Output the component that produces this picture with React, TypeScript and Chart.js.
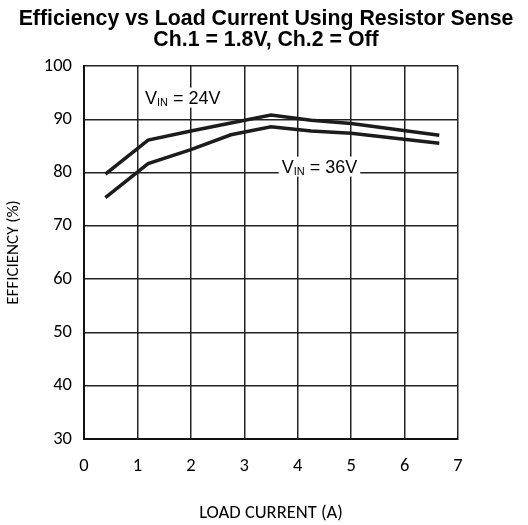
import React, { useEffect, useRef } from "react";
import { Chart, registerables } from "chart.js";

Chart.register(...registerables);

const titleLines = ["Efficiency vs Load Current Using Resistor Sense", "Ch.1 = 1.8V, Ch.2 = Off"];
const xAxisTitle = "LOAD CURRENT (A)";
const yAxisTitle = "EFFICIENCY (%)";

const loadCurrent = [0.4, 1.2, 2.0, 2.75, 3.5, 4.25, 5.0, 6.65];
const eff24V = [79.7, 86.1, 87.8, 89.3, 90.8, 89.8, 89.2, 87.0];
const eff36V = [75.3, 81.7, 84.3, 87.1, 88.6, 87.8, 87.4, 85.5];

const xMin = 0, xMax = 7, xStep = 1;
const yMin = 30, yMax = 100, yStep = 10;

// label anchors in data coordinates (x, baseline y)
const labels24 = { x: 1.14, y: 92.95, main: "V", sub: "IN", rest: " = 24V" };
const labels36 = { x: 3.7, y: 80.0, main: "V", sub: "IN", rest: " = 36V" };

const TICK_FONT = "Carlito, Lato, 'Open Sans', sans-serif";
const ARIAL = "'Liberation Sans', Arial, sans-serif";

export default function App() {
  const ref = useRef<HTMLCanvasElement | null>(null);

  useEffect(() => {
    const canvas = ref.current;
    if (!canvas) return;

    const titlePlugin = {
      id: "customTitle",
      afterDraw(chart: any) {
        const ctx = chart.ctx;
        ctx.save();
        ctx.fillStyle = "#000";
        ctx.textAlign = "center";
        ctx.textBaseline = "alphabetic";
        ctx.font = `bold 21.3px ${ARIAL}`;
        ctx.fillText(titleLines[0], 266, 25);
        ctx.fillText(titleLines[1], 266, 46);
        ctx.restore();
      },
    };

    const drawLabel = (chart: any, l: any) => {
      const ctx = chart.ctx;
      const xs = chart.scales.x;
      const ys = chart.scales.y;
      const px = xs.getPixelForValue(l.x);
      const py = ys.getPixelForValue(l.y);
      ctx.save();
      ctx.font = `18px ${ARIAL}`;
      const w1 = ctx.measureText(l.main).width;
      const w3 = ctx.measureText(l.rest).width;
      ctx.font = `11px ${ARIAL}`;
      const w2 = ctx.measureText(l.sub).width;
      const total = w1 + w2 + w3;
      ctx.fillStyle = "#fff";
      ctx.fillRect(px - 3, py - 16, total + 6, 20);
      ctx.fillStyle = "#000";
      ctx.textAlign = "left";
      ctx.textBaseline = "alphabetic";
      ctx.font = `18px ${ARIAL}`;
      ctx.fillText(l.main, px, py);
      ctx.font = `11px ${ARIAL}`;
      ctx.fillText(l.sub, px + w1, py + 2);
      ctx.font = `18px ${ARIAL}`;
      ctx.fillText(l.rest, px + w1 + w2, py);
      ctx.restore();
    };

    const labelPlugin = {
      id: "vinLabels",
      beforeDatasetsDraw(chart: any) {
        drawLabel(chart, labels24);
        drawLabel(chart, labels36);
      },
    };

    const chart = new Chart(canvas, {
      type: "line",
      data: {
        datasets: [
          {
            label: "VIN = 24V",
            data: loadCurrent.map((x, i) => ({ x, y: eff24V[i] })),
            borderColor: "#1c1c1c",
            borderWidth: 3.5,
            pointRadius: 0,
            tension: 0,
            fill: false,
          },
          {
            label: "VIN = 36V",
            data: loadCurrent.map((x, i) => ({ x, y: eff36V[i] })),
            borderColor: "#1c1c1c",
            borderWidth: 3.5,
            pointRadius: 0,
            tension: 0,
            fill: false,
          },
        ],
      },
      options: {
        responsive: false,
        animation: false,
        layout: { padding: { top: 66, right: 70, left: 0, bottom: 0 } },
        plugins: {
          legend: { display: false },
          title: { display: false },
          tooltip: { enabled: false },
        },
        scales: {
          x: {
            type: "linear",
            min: xMin,
            max: xMax,
            ticks: {
              stepSize: xStep,
              color: "#000",
              font: { family: TICK_FONT, size: 18.5 },
              padding: 16,
              maxRotation: 0,
            },
            grid: { color: "#222", lineWidth: 1.5, drawTicks: false },
            border: { color: "#111", width: 2 },
            title: {
              display: true,
              text: xAxisTitle,
              color: "#000",
              font: { family: TICK_FONT, size: 18.5 },
              padding: { top: 0, bottom: 1 },
            },
            afterFit(scale: any) {
              scale.height = 86;
            },
          },
          y: {
            type: "linear",
            min: yMin,
            max: yMax,
            ticks: {
              stepSize: yStep,
              color: "#000",
              font: { family: TICK_FONT, size: 18.5 },
              padding: 12,
            },
            grid: { color: "#222", lineWidth: 1.5, drawTicks: false },
            border: { color: "#111", width: 2 },
            title: {
              display: true,
              text: yAxisTitle,
              color: "#000",
              font: { family: TICK_FONT, size: 17 },
              padding: { top: 4, bottom: 0 },
            },
            afterFit(scale: any) {
              scale.width = 84;
            },
          },
        },
      },
      plugins: [labelPlugin, titlePlugin],
    });

    return () => chart.destroy();
  }, []);

  return (
    <div style={{ position: "absolute", left: 0, top: 0, width: 528, height: 525, background: "#fff" }}>
      <canvas ref={ref} width={528} height={525} />
    </div>
  );
}
